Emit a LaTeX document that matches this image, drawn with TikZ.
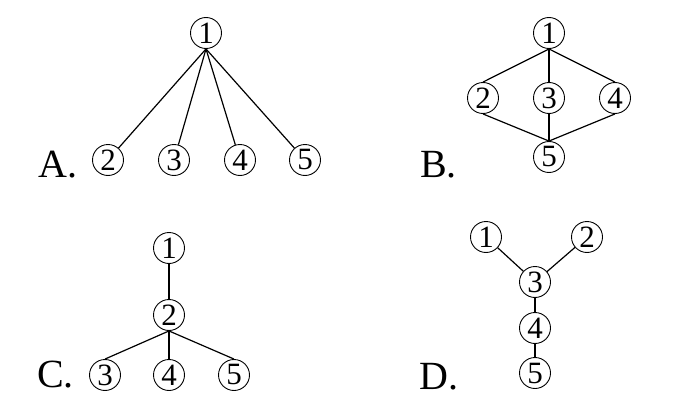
\documentclass[tikz,border=0pt]{standalone}
\usepackage{fontspec}
\setmainfont{Liberation Serif}
\begin{document}
\begin{tikzpicture}[x=1pt,y=-1pt,
  num/.style={draw,circle,minimum size=31pt,inner sep=0pt,line width=0.9pt,font=\fontsize{31}{31}\selectfont},
  lab/.style={font=\fontsize{40}{40}\selectfont,inner sep=0pt,anchor=base west},
  edge/.style={line width=1.2pt}]
\useasboundingbox (0,0) rectangle (681,415);
% A
\node[num] (a1) at (206,33) {1};
\node[num] (a2) at (108,160) {2};
\node[num] (a3) at (174,160) {3};
\node[num] (a4) at (240,160) {4};
\node[num] (a5) at (305,160) {5};
\node[lab] (la) at (38,177) {A.};
\foreach \n in {a2,a3,a4,a5} \draw[edge] (a1.south) -- (\n);
% B
\node[num] (b1) at (549,33) {1};
\node[num] (b2) at (483,98) {2};
\node[num] (b3) at (549,98) {3};
\node[num] (b4) at (615,98) {4};
\node[num] (b5) at (549,157) {5};
\node[lab] (lb) at (420,177) {B.};
\foreach \n in {b2,b3,b4} {\draw[edge] (b1.south) -- (\n.north); \draw[edge] (\n.south) -- (b5.north);}
% C
\node[num] (c1) at (169,248) {1};
\node[num] (c2) at (169,315) {2};
\node[num] (c3) at (105,375) {3};
\node[num] (c4) at (169,375) {4};
\node[num] (c5) at (234,375) {5};
\node[lab] (lc) at (37,387) {C.};
\draw[edge] (c1) -- (c2);
\foreach \n in {c3,c4,c5} \draw[edge] (c2.south) -- (\n.north);
% D
\node[num] (d1) at (486,237) {1};
\node[num] (d2) at (587,237) {2};
\node[num] (d3) at (535,282) {3};
\node[num] (d4) at (535,328) {4};
\node[num] (d5) at (535,373) {5};
\node[lab] (ld) at (419,389) {D.};
\draw[edge] (d1) -- (d3);
\draw[edge] (d2) -- (d3);
\draw[edge] (d3) -- (d4);
\draw[edge] (d4) -- (d5);
\end{tikzpicture}
\end{document}
